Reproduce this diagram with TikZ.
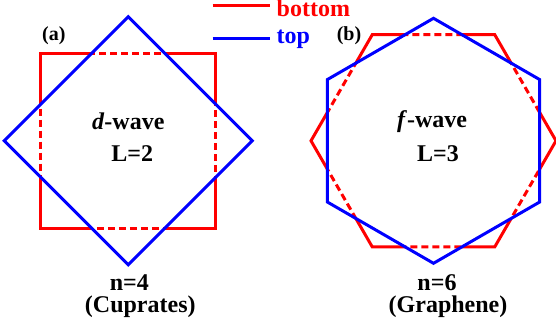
\documentclass[tikz,border=0pt]{standalone}
\usepackage{fontspec}
\setmainfont{Liberation Serif}

\tikzset{
  bottomline/.style={red, line width=3pt},
  topline/.style={blue, line width=3pt},
  hidden/.style={bottomline, dash pattern=on 7pt off 4pt},
  lbl/.style={font=\bfseries\fontsize{24}{28}\selectfont, inner sep=0pt},
  tag/.style={font=\bfseries\fontsize{20}{24}\selectfont, inner sep=0pt}
}

\begin{document}
\begin{tikzpicture}[x=1pt, y=1pt]
  \useasboundingbox (0,0) rectangle (556,328);

  % Legend
  \coordinate (legbot) at (212.7,322);
  \coordinate (legtop) at (212.7,289.7);
  \node[lbl, red, anchor=base west] (bottxt) at (276.5,311.5) {bottom};
  \node[lbl, blue, anchor=base west] (toptxt) at (276.5,284.7) {top};
  \draw[bottomline, shorten >=6.5pt] (legbot) -- (legbot -| bottxt.west);
  \draw[topline, shorten >=6.5pt] (legtop) -- (legtop -| toptxt.west);

  % (a) square lattice: two squares turned by 45 degrees
  \begin{scope}[shift={(128.3,187.2)}]
    \begin{scope}
      \clip (0:124) -- (90:124) -- (180:124) -- (270:124) -- cycle;
      \draw[hidden] (45:124) -- (135:124) -- (225:124) -- (315:124) -- cycle;
    \end{scope}
    \begin{scope}[even odd rule]
      \clip (-140,-140) rectangle (140,140)
        (0:124) -- (90:124) -- (180:124) -- (270:124) -- cycle;
      \draw[bottomline] (45:124) -- (135:124) -- (225:124) -- (315:124) -- cycle;
    \end{scope}
    \draw[topline] (0:124) -- (90:124) -- (180:124) -- (270:124) -- cycle;

    \node[tag] (taga) at (-74.5,105) {(a)};
    \node[lbl] (wavea) at (0,20) {\textit{d}-wave};
    \node[lbl] (La) at (4,-13) {L=2};
    \node[lbl] (na) at (1,-142) {n=4};
    \node[lbl] (mata) at (12,-166) {(Cuprates)};
  \end{scope}

  % (b) hexagonal lattice: two hexagons turned by 30 degrees
  \begin{scope}[shift={(433.5,187.2)}]
    \begin{scope}
      \clip (30:122.5) -- (90:122.5) -- (150:122.5) -- (210:122.5) -- (270:122.5) -- (330:122.5) -- cycle;
      \draw[hidden] (0:122.5) -- (60:122.5) -- (120:122.5) -- (180:122.5) -- (240:122.5) -- (300:122.5) -- cycle;
    \end{scope}
    \begin{scope}[even odd rule]
      \clip (-140,-140) rectangle (140,140)
        (30:122.5) -- (90:122.5) -- (150:122.5) -- (210:122.5) -- (270:122.5) -- (330:122.5) -- cycle;
      \draw[bottomline] (0:122.5) -- (60:122.5) -- (120:122.5) -- (180:122.5) -- (240:122.5) -- (300:122.5) -- cycle;
    \end{scope}
    \draw[topline] (30:122.5) -- (90:122.5) -- (150:122.5) -- (210:122.5) -- (270:122.5) -- (330:122.5) -- cycle;

    \node[tag] (tagb) at (-84.5,105) {(b)};
    \node[lbl] (waveb) at (-1.5,19) {\textit{f}-wave};
    \node[lbl] (Lb) at (4.5,-13) {L=3};
    \node[lbl] (nb) at (3.5,-142) {n=6};
    \node[lbl] (matb) at (14.5,-166) {(Graphene)};
  \end{scope}
\end{tikzpicture}
\end{document}
